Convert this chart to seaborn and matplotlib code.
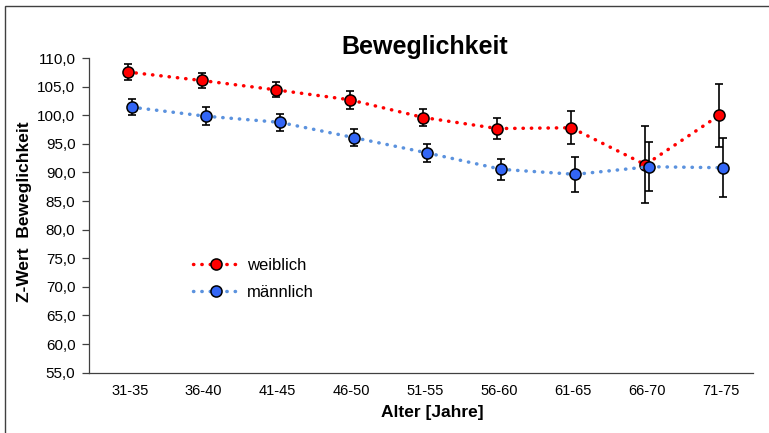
import numpy as np
import pandas as pd
import seaborn as sns
import matplotlib
matplotlib.use("Agg")
import matplotlib.pyplot as plt
from matplotlib.ticker import FuncFormatter, FixedLocator
from matplotlib.patches import Rectangle

# ---- data ----
categories = ["31-35", "36-40", "41-45", "46-50", "51-55", "56-60", "61-65", "66-70", "71-75"]
weiblich = [107.55, 106.07, 104.44, 102.71, 99.6, 97.67, 97.81, 91.35, 99.98]
weiblich_err = [1.35, 1.36, 1.31, 1.57, 1.54, 1.78, 2.91, 6.7, 5.5]
maennlich = [101.4, 99.83, 98.76, 96.1, 93.4, 90.54, 89.67, 91.0, 90.82]
maennlich_err = [1.43, 1.6, 1.46, 1.49, 1.57, 1.8, 3.09, 4.25, 5.2]
y_ticks = [55, 60, 65, 70, 75, 80, 85, 90, 95, 100, 105, 110]

title = "Beweglichkeit"
x_label = "Alter [Jahre]"
y_label = "Z-Wert  Beweglichkeit"

sns.set_theme(style="white")
plt.rcParams["font.family"] = ["Liberation Sans", "DejaVu Sans"]
plt.rcParams["text.color"] = "black"
plt.rcParams["axes.labelcolor"] = "black"

W, H = 769, 433
fig = plt.figure(figsize=(W / 100, H / 100), dpi=100)
ax = fig.add_axes([89.3 / W, 1 - 372.7 / H, (753.3 - 89.3) / W, (372.7 - 58) / H])

idx = np.arange(len(categories))
df_w = pd.DataFrame({"pos": idx - 0.027, "wert": weiblich, "err": weiblich_err})
df_m = pd.DataFrame({"pos": idx + 0.027, "wert": maennlich, "err": maennlich_err})

dot = (0, (0.1, 2.3))
series = [
    (df_w, "weiblich", "#FF0000", "#FF0000", 2),
    (df_m, "männlich", "#5B92DE", "#3366F5", 4),
]
for df, lab, lcol, mcol, z in series:
    ax.errorbar(df["pos"], df["wert"], yerr=df["err"], fmt="none",
                ecolor="black", elinewidth=1.2, capsize=3, capthick=1.2,
                zorder=z)
    sns.lineplot(data=df, x="pos", y="wert", ax=ax, color=lcol,
                 linewidth=2.5, linestyle=dot, dash_capstyle="round",
                 marker="o", markersize=8, markerfacecolor=mcol,
                 markeredgecolor="black", markeredgewidth=1.1,
                 label=lab, zorder=z + 1, sort=False)

ax.set_xlim(-0.546, 8.433)
ax.set_ylim(55, 110)
ax.set_xticks(idx)
ax.set_xticklabels(categories)
ax.yaxis.set_major_locator(FixedLocator(y_ticks))
ax.yaxis.set_major_formatter(FuncFormatter(lambda v, p: f"{v:.1f}".replace(".", ",")))
ax.tick_params(axis="x", length=0, pad=8, labelsize=10.5, labelcolor="black")
ax.tick_params(axis="y", length=5, width=0.9, direction="out", pad=5,
               labelsize=11, labelcolor="black", left=True, color="#404040")
ax.set_xlabel("")
ax.set_ylabel("")

for s in ["top", "right"]:
    ax.spines[s].set_visible(False)
for s in ["left", "bottom"]:
    ax.spines[s].set_color("#404040")
    ax.spines[s].set_linewidth(0.9)

fig.text(425 / W, 1 - 47 / H, title, ha="center", va="center",
         fontsize=18, fontweight="bold", color="black")
fig.text(432 / W, 1 - 412 / H, x_label, ha="center", va="center",
         fontsize=12.5, fontweight="bold", color="black")
fig.text(25 / W, 1 - 212 / H, y_label, ha="center", va="center",
         rotation=90, fontsize=12.5, fontweight="bold", color="black")

leg = ax.legend(loc="center left", bbox_to_anchor=(193 / W, 1 - 279 / H),
                bbox_transform=fig.transFigure, frameon=False, fontsize=12,
                handlelength=2.7, handletextpad=0.55, labelspacing=0.7,
                borderpad=0, borderaxespad=0, numpoints=1)
for t in leg.get_texts():
    t.set_color("black")

fig.add_artist(Rectangle((5 / W, -0.1), 1.2, 1 - 5.5 / H + 0.1,
                         transform=fig.transFigure, fill=False,
                         edgecolor="#404040", linewidth=1.0, clip_on=False))

fig.savefig("out.png", dpi=100)
